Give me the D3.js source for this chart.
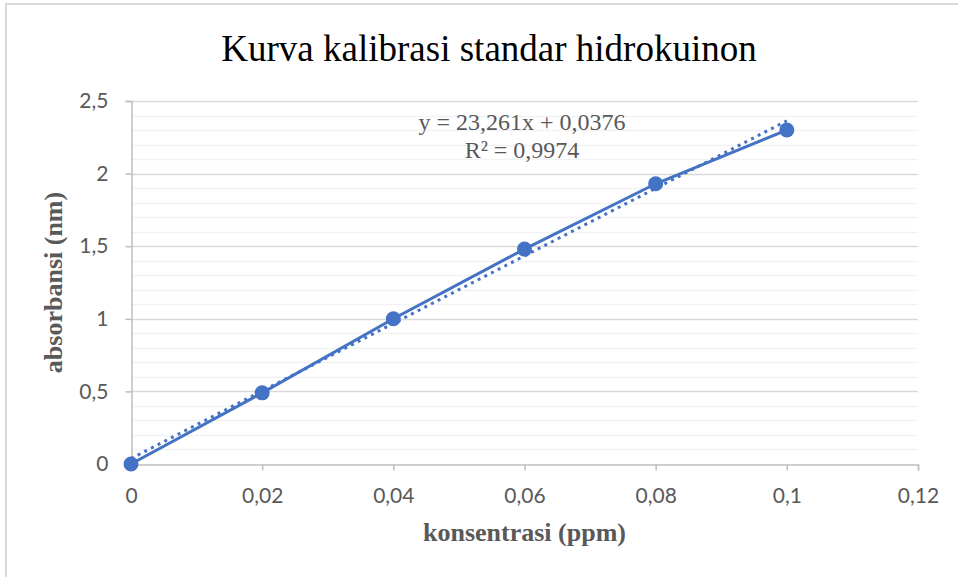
<!DOCTYPE html>
<html>
<head>
<meta charset="utf-8">
<script src="https://cdn.jsdelivr.net/npm/d3@7"></script>
<style>
  body { margin: 0; background: #fff; }
  svg { display: block; }
</style>
</head>
<body>
<svg width="958" height="577"></svg>
<script>
// Data
const konsentrasi = [0, 0.02, 0.04, 0.06, 0.08, 0.1];
const absorbansi = [0, 0.49, 1.0, 1.48, 1.93, 2.30];
const xTicks = [0, 0.02, 0.04, 0.06, 0.08, 0.1, 0.12];
const yTicks = [0, 0.5, 1, 1.5, 2, 2.5];
const slope = 23.261, intercept = 0.0376;

const svg = d3.select("svg");

// chart border (only top and left edges show)
svg.append("rect")
  .attr("x", 6).attr("y", 4)
  .attr("width", 980).attr("height", 600)
  .attr("fill", "none")
  .attr("stroke", "#d9d9d9")
  .attr("stroke-width", 2);

const x = d3.scaleLinear().domain([0, 0.12]).range([131, 918]);
const y = d3.scaleLinear().domain([0, 2.5]).range([464, 101]);

const fmt = d => String(d).replace(".", ",");

// minor gridlines
const minor = d3.range(1, 25).map(i => i * 0.1).filter(v => Math.abs(v * 2 - Math.round(v * 2)) > 1e-6);
svg.append("g")
  .selectAll("line")
  .data(minor)
  .join("line")
  .attr("x1", x(0)).attr("x2", x(0.12))
  .attr("y1", d => Math.round(y(d)) + 0.5)
  .attr("y2", d => Math.round(y(d)) + 0.5)
  .attr("stroke", "#f2f2f2")
  .attr("stroke-width", 1.5);

// major gridlines
svg.append("g")
  .selectAll("line")
  .data(yTicks.slice(1))
  .join("line")
  .attr("x1", x(0)).attr("x2", x(0.12))
  .attr("y1", d => Math.round(y(d)) + 0.5)
  .attr("y2", d => Math.round(y(d)) + 0.5)
  .attr("stroke", "#d9d9d9")
  .attr("stroke-width", 1.5);

// axes
const xAxis = svg.append("g")
  .attr("transform", `translate(0,${Math.round(y(0)) + 0.5})`)
  .call(d3.axisBottom(x).tickValues(xTicks).tickFormat(fmt).tickSize(6).tickPadding(18));

const yAxis = svg.append("g")
  .attr("transform", `translate(${Math.round(x(0)) + 0.5},0)`)
  .call(d3.axisLeft(y).tickValues(yTicks).tickFormat(fmt).tickSize(6).tickPadding(17));

[xAxis, yAxis].forEach(g => {
  g.select(".domain").attr("stroke", "#bfbfbf").attr("stroke-width", 1.5);
  g.selectAll(".tick line").attr("stroke", "#bfbfbf").attr("stroke-width", 1.5);
  g.selectAll(".tick text")
    .attr("fill", "#595959")
    .style("font-family", "Lato, 'Open Sans', sans-serif")
    .style("font-size", "21px");
});
xAxis.selectAll(".tick text").attr("dy", "0.71em");

// trendline (dotted)
svg.append("line")
  .attr("x1", x(0)).attr("y1", y(intercept))
  .attr("x2", x(0.1)).attr("y2", y(slope * 0.1 + intercept))
  .attr("stroke", "#4472c4")
  .attr("stroke-width", 3)
  .attr("stroke-dasharray", "3,4.5");

// series line
const pts = konsentrasi.map((k, i) => [k, absorbansi[i]]);
svg.append("path")
  .datum(pts)
  .attr("d", d3.line().x(d => x(d[0])).y(d => y(d[1])))
  .attr("fill", "none")
  .attr("stroke", "#4472c4")
  .attr("stroke-width", 3);

svg.append("g")
  .selectAll("circle")
  .data(pts)
  .join("circle")
  .attr("cx", d => x(d[0]))
  .attr("cy", d => y(d[1]))
  .attr("r", 7.5)
  .attr("fill", "#4472c4");

// equation
const eq = svg.append("text")
  .attr("text-anchor", "middle")
  .attr("fill", "#595959")
  .style("font-family", "'Liberation Serif', 'Times New Roman', serif")
  .style("font-size", "24px");
eq.append("tspan").attr("x", 522).attr("y", 130).text("y = 23,261x + 0,0376");
eq.append("tspan").attr("x", 522).attr("y", 158).text("R² = 0,9974");

// title
svg.append("text")
  .attr("x", 489).attr("y", 61)
  .attr("text-anchor", "middle")
  .attr("fill", "#000")
  .style("font-family", "'Liberation Serif', 'Times New Roman', serif")
  .style("font-size", "37px")
  .text("Kurva kalibrasi standar hidrokuinon");

// axis titles
svg.append("text")
  .attr("x", x(0.06)).attr("y", 541)
  .attr("text-anchor", "middle")
  .attr("fill", "#595959")
  .style("font-family", "'Liberation Serif', 'Times New Roman', serif")
  .style("font-size", "26px")
  .style("font-weight", "bold")
  .text("konsentrasi (ppm)");

svg.append("text")
  .attr("transform", `translate(62,${y(1.25)}) rotate(-90)`)
  .attr("text-anchor", "middle")
  .attr("fill", "#595959")
  .style("font-family", "'Liberation Serif', 'Times New Roman', serif")
  .style("font-size", "26px")
  .style("font-weight", "bold")
  .text("absorbansi (nm)");
</script>
</body>
</html>
